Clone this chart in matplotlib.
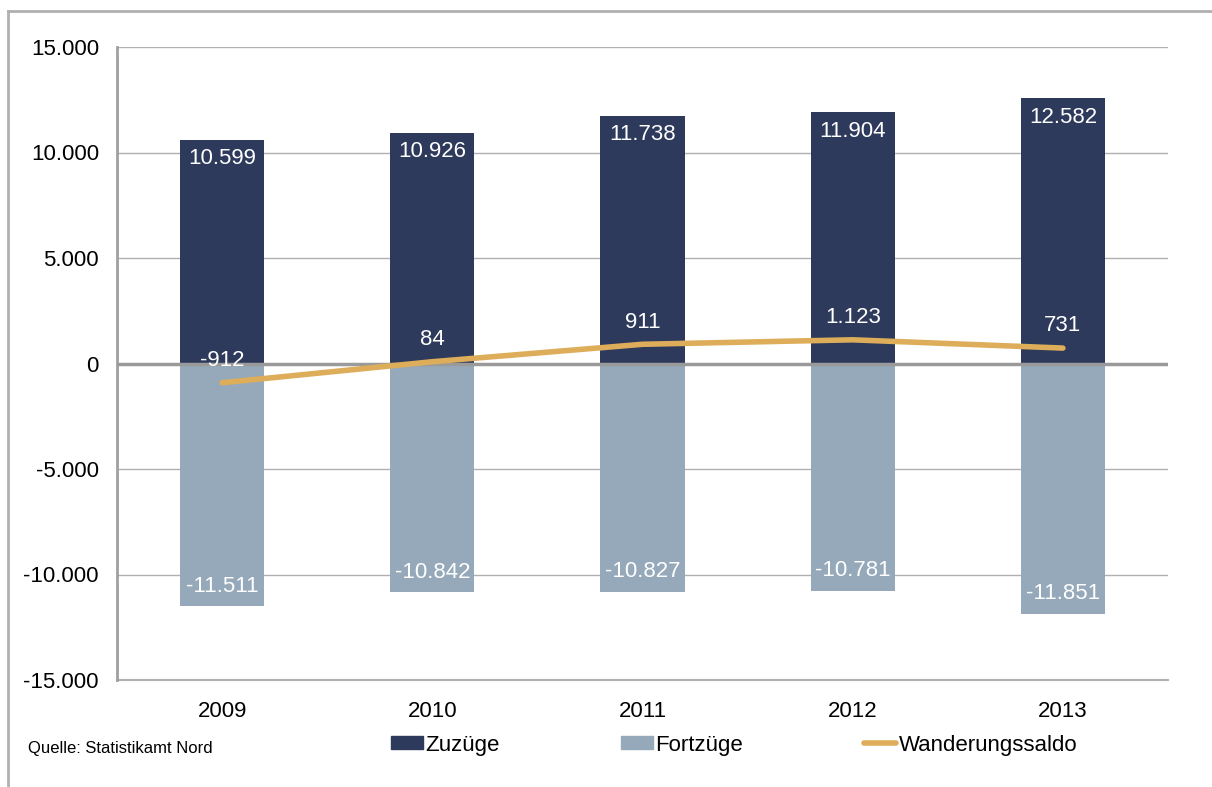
import matplotlib.pyplot as plt
from matplotlib.lines import Line2D
from matplotlib.patches import Patch
import numpy as np

plt.rcParams['font.family'] = ['Liberation Sans', 'DejaVu Sans']

years = ['2009', '2010', '2011', '2012', '2013']
zuzuege = [10599, 10926, 11738, 11904, 12582]
fortzuege = [-11511, -10842, -10827, -10781, -11851]
saldo = [-912, 84, 911, 1123, 731]

c_zu = '#2E3A5C'
c_fort = '#95A9BA'
c_saldo = '#DDAD5A'


def fmt(v):
    return '{:,}'.format(v).replace(',', '.')


fig = plt.figure(figsize=(12.12, 7.87), dpi=100)
ax = fig.add_axes([117 / 1212, 1 - 680 / 787, 1051 / 1212, 633 / 787])

x = np.arange(len(years))
ax.bar(x, zuzuege, width=0.4, color=c_zu, zorder=2)
ax.bar(x, fortzuege, width=0.4, color=c_fort, zorder=2)
ax.plot(x, saldo, color=c_saldo, lw=4, solid_capstyle='round', zorder=4)

for i in range(len(years)):
    ax.text(x[i], zuzuege[i] - 900, fmt(zuzuege[i]), ha='center', va='center',
            color='white', fontsize=16, zorder=5)
    ax.text(x[i], fortzuege[i] + 950, fmt(fortzuege[i]), ha='center', va='center',
            color='white', fontsize=16, zorder=5)
    ax.text(x[i], saldo[i] + 1050, fmt(saldo[i]), ha='center', va='center',
            color='white', fontsize=16, zorder=5)

ax.set_xlim(-0.5, 4.5)
ax.set_ylim(-15000, 15000)
ax.set_yticks(np.arange(-15000, 15001, 5000))
ax.set_yticklabels([fmt(v) for v in np.arange(-15000, 15001, 5000)], fontsize=16)
ax.set_xticks(x)
ax.set_xticklabels(years, fontsize=16)
ax.tick_params(axis='both', length=0)
ax.tick_params(axis='y', pad=13)
ax.tick_params(axis='x', pad=15)
ax.yaxis.grid(True, color='#B0B0B0', lw=1, zorder=0)
ax.set_axisbelow(True)
ax.axhline(-15000, color='#B0B0B0', lw=1.5, clip_on=False, zorder=1)
ax.axhline(0, color='#9A9A9A', lw=2.5, zorder=3)
for s in ['top', 'right', 'bottom']:
    ax.spines[s].set_visible(False)
ax.spines['left'].set_color('#A0A0A0')
ax.spines['left'].set_linewidth(2)

# outer frame
fig.add_artist(Line2D([8 / 1212, 1.0], [1 - 11 / 787, 1 - 11 / 787], color='#B0B0B0', lw=2))
fig.add_artist(Line2D([8 / 1212, 8 / 1212], [0, 1 - 11 / 787], color='#B0B0B0', lw=2))

fig.text(28 / 1212, 1 - 748 / 787, 'Quelle: Statistikamt Nord', fontsize=12, va='center')

handles = [Patch(color=c_zu), Patch(color=c_fort),
           Line2D([0], [0], color=c_saldo, lw=4, solid_capstyle='round')]
fig.legend(handles, ['Zuzüge', 'Fortzüge', 'Wanderungssaldo'], loc='center',
           bbox_to_anchor=(734 / 1212, 1 - 745 / 787), ncol=3, frameon=False,
           fontsize=16, handlelength=1.45, handleheight=0.5, handletextpad=0.1,
           columnspacing=5.45, borderpad=0)

fig.savefig('out.png', dpi=100)
